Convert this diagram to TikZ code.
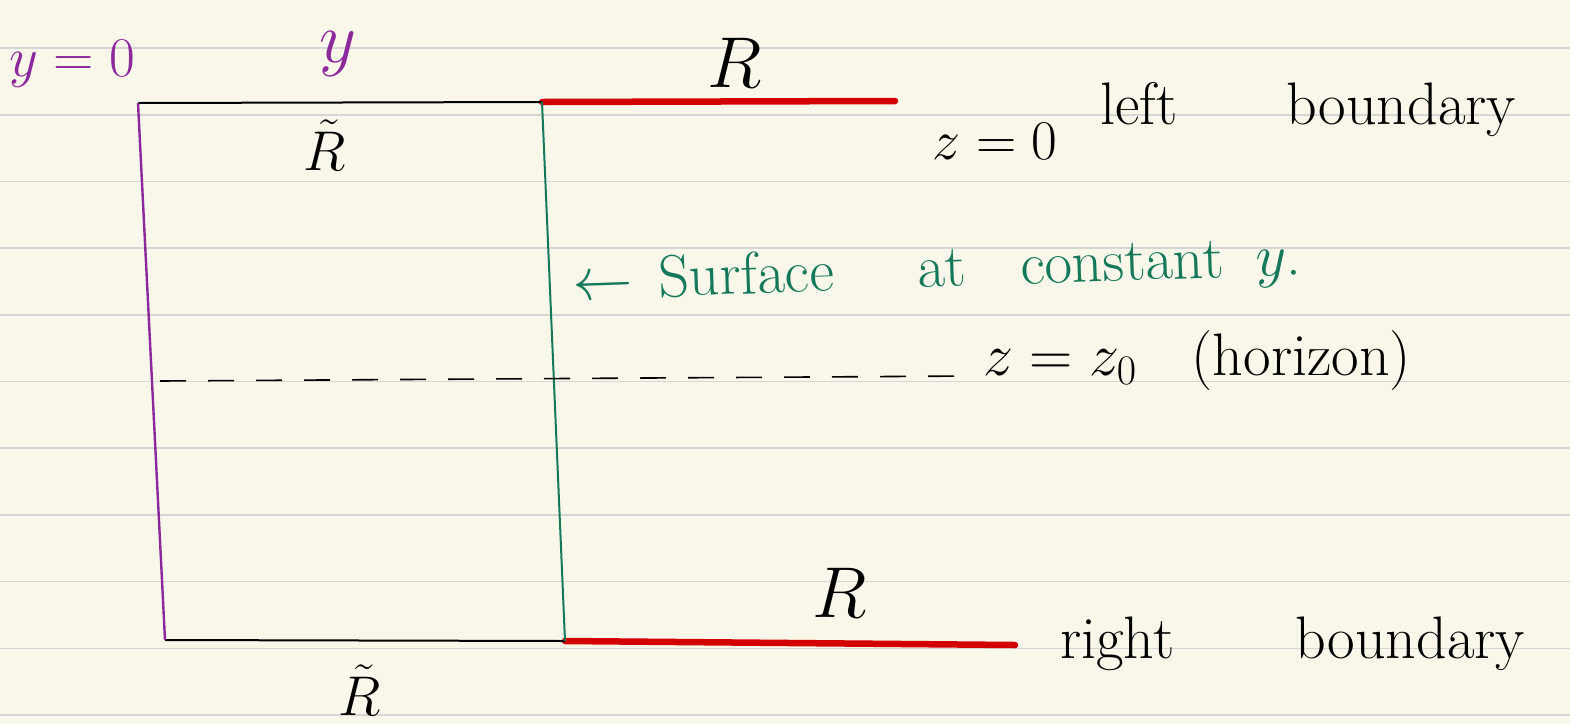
\RequirePackage{fix-cm}
\documentclass[tikz,border=0pt]{standalone}
\definecolor{paper}{RGB}{249,247,234}
\definecolor{ruling}{RGB}{214,214,214}
\definecolor{purp}{RGB}{140,40,155}
\definecolor{teal}{RGB}{20,120,90}
\definecolor{redline}{RGB}{210,0,0}
\begin{document}
\begin{tikzpicture}[x=1pt,y=-1pt,
  lab/.style={font=\fontsize{56}{60}\selectfont, inner sep=0pt},
  wlab/.style={font=\fontsize{60}{64}\selectfont, inner sep=0pt},
  biglab/.style={font=\fontsize{72}{76}\selectfont, inner sep=0pt},
  rule/.style={ruling, line width=1.6pt},
  edge/.style={black, line width=2pt},
  yedge/.style={purp, line width=2.4pt},
  cedge/.style={teal, line width=2pt},
  bound/.style={redline, line width=6.5pt, line cap=round},
  horizon/.style={black, line width=1.6pt, dash pattern=on 26pt off 22pt}]
\fill[paper] (0,0) rectangle (1570,724);
\useasboundingbox (0,0) rectangle (1570,724);
% ruled paper
\foreach \k in {0,...,10}
  \draw[rule] (0,{48+66.7*\k}) -- (1570,{48+66.7*\k});
% corners
\coordinate (tl) at (138,103);
\coordinate (bl) at (165,640);
\coordinate (tr) at (542,102);
\coordinate (br) at (565,641);
\coordinate (rt) at (895,101);
\coordinate (rb) at (1015,645);
\coordinate (hl) at (160,381);
\coordinate (hr) at (972,376);
% shapes
\draw[bound] (tr) -- (rt);
\draw[bound] (br) -- (rb);
\draw[edge] (tl) -- (tr);
\draw[edge] (bl) -- (br);
\draw[yedge] (tl) -- (bl);
\draw[cedge] (tr) -- (br);
\draw[horizon] (hl) -- (hr);
% labels
\node[lab, purp, anchor=base] (y0) at (72,76) {$y=0$};
\node[biglab, purp, anchor=base] (ylab) at (338,62) {$y$};
\node[lab] (rtt) at (325,145) {$\tilde R$};
\node[lab] (rtb) at (360,690) {$\tilde R$};
\node[biglab] (rtop) at (735,63) {$R$};
\node[biglab] (rbot) at (840,593) {$R$};
\node[lab, anchor=base] (z0) at (995,159) {$z=0$};
\node[wlab, anchor=base west] (lb) at (1100,124) {left\hspace{109pt}boundary};
\node[wlab, anchor=base west] (rbnd) at (1060,658) {right\hspace{121pt}boundary};
\node[wlab, anchor=base west] (hz) at (983,375) {$z=z_0$\hspace{55pt}(horizon)};
\node[wlab, teal, anchor=base west, rotate=2] (surf) at (573,300)
  {$\leftarrow$\hspace{26pt}Surface\hspace{84pt}at\hspace{54pt}constant\hspace{32pt}$y$.};
\end{tikzpicture}
\end{document}
